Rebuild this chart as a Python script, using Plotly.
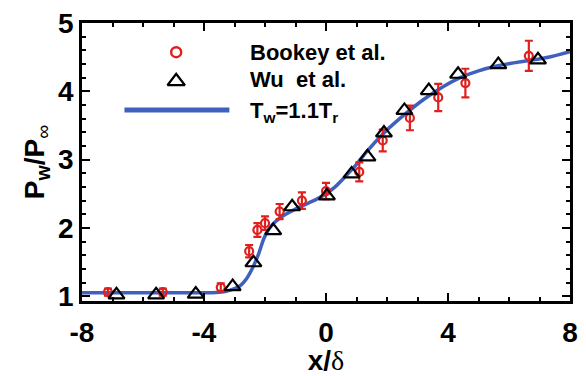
import plotly.graph_objects as go

# Wall-pressure distribution along the plate
bookey_x = [-7.15, -5.35, -3.45, -2.52, -2.25, -2.0, -1.52, -0.79, 0.0, 1.09, 1.86, 2.75, 3.68, 4.57, 6.65]
bookey_y = [1.06, 1.06, 1.13, 1.66, 1.97, 2.07, 2.24, 2.40, 2.54, 2.82, 3.28, 3.61, 3.91, 4.12, 4.52]
bookey_err = [0.05, 0.05, 0.06, 0.09, 0.10, 0.10, 0.11, 0.12, 0.12, 0.14, 0.16, 0.18, 0.20, 0.21, 0.22]

wu_x = [-6.87, -5.57, -4.27, -3.06, -2.38, -1.73, -1.11, 0.03, 0.84, 1.36, 1.90, 2.57, 3.37, 4.33, 5.65, 6.95]
wu_y = [1.02, 1.02, 1.03, 1.14, 1.49, 1.96, 2.31, 2.47, 2.79, 3.04, 3.39, 3.72, 4.01, 4.25, 4.39, 4.46]

sim_x = [-8.0, -6.0, -4.0, -3.6, -3.3, -3.0, -2.8, -2.6, -2.4, -2.2, -2.05, -1.85, -1.5, -1.2,
         -0.8, -0.35, 0.0, 0.3, 0.65, 1.0, 1.3, 1.9, 2.55, 3.2, 3.85, 4.4, 5.0, 5.6, 6.2, 6.8, 7.4, 8.0]
sim_y = [1.05, 1.05, 1.05, 1.055, 1.07, 1.11, 1.16, 1.26, 1.42, 1.63, 1.83, 2.0, 2.15, 2.23,
         2.32, 2.41, 2.5, 2.6, 2.76, 2.93, 3.1, 3.39, 3.65, 3.88, 4.07, 4.2, 4.3, 4.37, 4.42, 4.46, 4.51, 4.58]

x_ticks = [-8, -4, 0, 4, 8]
y_ticks = [1, 2, 3, 4, 5]

RED = "#e0201e"
BLUE = "#4060bd"
FONT = "Liberation Sans"

fig = go.Figure()

fig.add_trace(go.Scatter(
    x=sim_x, y=sim_y, mode="lines", line=dict(color=BLUE, width=3.5, shape="spline", smoothing=0.6),
    showlegend=False, hoverinfo="skip"))

fig.add_trace(go.Scatter(
    x=bookey_x, y=bookey_y, mode="markers",
    marker=dict(symbol="circle-open", size=8, color=RED, line=dict(width=2.2, color=RED)),
    error_y=dict(type="data", array=bookey_err, visible=True, color=RED, thickness=2.2, width=4),
    showlegend=False))

fig.add_trace(go.Scatter(
    x=wu_x, y=wu_y, mode="markers",
    marker=dict(symbol="triangle-up-open", size=14, color="black", line=dict(width=2.2, color="black")),
    showlegend=False))

# Legend drawn on an overlay axis spanning the plot area
fig.add_trace(go.Scatter(x=[0.193], y=[0.895], xaxis="x2", yaxis="y2", mode="markers",
                         marker=dict(symbol="circle-open", size=10, color=RED, line=dict(width=2.4, color=RED)),
                         showlegend=False, hoverinfo="skip"))
fig.add_trace(go.Scatter(x=[0.193], y=[0.79], xaxis="x2", yaxis="y2", mode="markers",
                         marker=dict(symbol="triangle-up-open", size=15, color="black", line=dict(width=2.4, color="black")),
                         showlegend=False, hoverinfo="skip"))
fig.add_trace(go.Scatter(x=[0.087, 0.302], y=[0.6875, 0.6875], xaxis="x2", yaxis="y2", mode="lines",
                         line=dict(color=BLUE, width=5), showlegend=False, hoverinfo="skip"))

legend_labels = ["Bookey et al.", "Wu&nbsp; et al.", "T<sub>w</sub>=1.1T<sub>r</sub>"]
legend_y = [0.895, 0.795, 0.68]
for lab, ly in zip(legend_labels, legend_y):
    fig.add_annotation(x=0.341, y=ly, xref="paper", yref="paper", text=lab,
                       showarrow=False, xanchor="left", yanchor="middle",
                       font=dict(family=FONT, size=22, color="black", weight="bold"))

axis_common = dict(
    showgrid=False, zeroline=False, showline=True, linecolor="black", linewidth=2.5,
    mirror="ticks", ticks="inside", ticklen=8, tickwidth=2, tickcolor="black",
    tickfont=dict(family=FONT, size=28, color="black", weight="bold"),
)

fig.update_layout(
    width=586, height=376,
    margin=dict(l=82, r=8, t=18, b=54),
    paper_bgcolor="white", plot_bgcolor="white",
    xaxis=dict(range=[-8, 8], tickvals=x_ticks, ticktext=[str(v) for v in x_ticks],
               ticklabelstandoff=5,
               minor=dict(ticks="inside", dtick=1, ticklen=4, tickwidth=1.5, tickcolor="black"),
               title=dict(text="x/<span style='font-family:Liberation Serif;font-weight:normal'>δ</span>",
                          font=dict(family=FONT, size=28, color="black", weight="bold"), standoff=0),
               **axis_common),
    yaxis=dict(range=[0.93, 5], tickvals=y_ticks, ticktext=[str(v) for v in y_ticks],
               minor=dict(ticks="inside", dtick=0.2, tick0=1, ticklen=4, tickwidth=1.5, tickcolor="black"),
               title=dict(text="P<sub>w</sub>/P<sub><span style='font-weight:normal'>∞</span></sub>",
                          font=dict(family=FONT, size=28, color="black", weight="bold"), standoff=6),
               **axis_common),
    xaxis2=dict(range=[0, 1], overlaying="x", visible=False, fixedrange=True),
    yaxis2=dict(range=[0, 1], overlaying="y", visible=False, fixedrange=True),
)

fig.write_html("out.html")
